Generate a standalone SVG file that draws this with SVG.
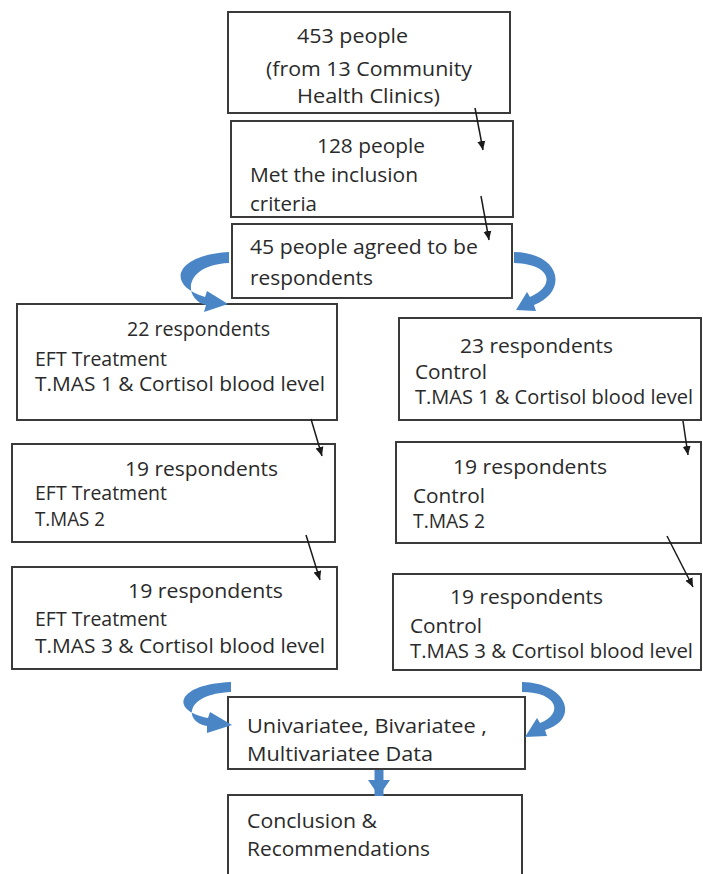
<svg xmlns="http://www.w3.org/2000/svg" width="703" height="874" viewBox="0 0 703 874">
<style>
.box{fill:#fff;stroke:#3a3a3a;stroke-width:2}
text{font-family:"Open Sans","Liberation Sans",sans-serif;font-size:19.5px;fill:#2a2a2a}
.blk{stroke:#1a1a1a;stroke-width:1.5;fill:none}
.bluef{fill:#4a86c6;stroke:none}
.blue{stroke:#4a86c6;stroke-width:9;fill:none;stroke-linecap:butt}
</style>
<defs>
<marker id="ah" markerUnits="userSpaceOnUse" markerWidth="10" markerHeight="10" refX="9" refY="5" orient="auto"><path d="M0,1 L9,5 L0,9 Z" fill="#1a1a1a"/></marker>
<marker id="bh" markerUnits="userSpaceOnUse" markerWidth="20" markerHeight="22" refX="16" refY="11" orient="auto"><path d="M0,0 L16,11 L0,22 Z" fill="#4a86c6"/></marker>
</defs>
<rect width="703" height="874" fill="#fff"/>
<g id="n1"><rect class="box" x="228" y="12" width="282" height="101"/>
<text x="297" y="43" textLength="111" lengthAdjust="spacingAndGlyphs">453 people</text>
<text x="266" y="76" textLength="206" lengthAdjust="spacingAndGlyphs">(from 13 Community</text>
<text x="297" y="103" textLength="143" lengthAdjust="spacingAndGlyphs">Health Clinics)</text></g>
<g id="n2"><rect class="box" x="231" y="121" width="282" height="96"/>
<text x="317" y="153" textLength="108" lengthAdjust="spacingAndGlyphs">128 people</text>
<text x="250" y="182" textLength="168" lengthAdjust="spacingAndGlyphs">Met the inclusion</text>
<text x="250" y="211" textLength="67" lengthAdjust="spacingAndGlyphs">criteria</text></g>
<g id="n3"><rect class="box" x="232" y="224" width="280" height="74"/>
<text x="250" y="254" textLength="228" lengthAdjust="spacingAndGlyphs">45 people  agreed to be</text>
<text x="250" y="285" textLength="123" lengthAdjust="spacingAndGlyphs">respondents</text></g>
<g id="l1"><rect class="box" x="17" y="304" width="320" height="116"/>
<text x="127" y="336" textLength="143" lengthAdjust="spacingAndGlyphs">22 respondents</text>
<text x="35" y="366" textLength="132" lengthAdjust="spacingAndGlyphs">EFT Treatment</text>
<text x="35" y="391" textLength="290" lengthAdjust="spacingAndGlyphs">T.MAS 1 &amp; Cortisol blood level</text></g>
<g id="l2"><rect class="box" x="12" y="444" width="323" height="98"/>
<text x="125" y="476" textLength="153" lengthAdjust="spacingAndGlyphs">19 respondents</text>
<text x="35" y="500" textLength="132" lengthAdjust="spacingAndGlyphs">EFT Treatment</text>
<text x="35" y="526" textLength="70" lengthAdjust="spacingAndGlyphs">T.MAS 2</text></g>
<g id="l3"><rect class="box" x="12" y="567" width="325" height="102"/>
<text x="128" y="598" textLength="155" lengthAdjust="spacingAndGlyphs">19 respondents</text>
<text x="35" y="626" textLength="132" lengthAdjust="spacingAndGlyphs">EFT Treatment</text>
<text x="35" y="653" textLength="290" lengthAdjust="spacingAndGlyphs">T.MAS 3 &amp; Cortisol blood level</text></g>
<g id="r1"><rect class="box" x="399" y="318" width="302" height="102"/>
<text x="460" y="353" textLength="153" lengthAdjust="spacingAndGlyphs">23 respondents</text>
<text x="415" y="379" textLength="72" lengthAdjust="spacingAndGlyphs">Control</text>
<text x="415" y="404" textLength="278" lengthAdjust="spacingAndGlyphs">T.MAS 1 &amp; Cortisol blood level</text></g>
<g id="r2"><rect class="box" x="396" y="442" width="305" height="101"/>
<text x="453" y="474" textLength="154" lengthAdjust="spacingAndGlyphs">19 respondents</text>
<text x="413" y="503" textLength="72" lengthAdjust="spacingAndGlyphs">Control</text>
<text x="413" y="528" textLength="72" lengthAdjust="spacingAndGlyphs">T.MAS 2</text></g>
<g id="r3"><rect class="box" x="393" y="574" width="308" height="96"/>
<text x="450" y="604" textLength="153" lengthAdjust="spacingAndGlyphs">19 respondents</text>
<text x="410" y="633" textLength="72" lengthAdjust="spacingAndGlyphs">Control</text>
<text x="410" y="658" textLength="283" lengthAdjust="spacingAndGlyphs">T.MAS 3  &amp; Cortisol blood level</text></g>
<g id="n4"><rect class="box" x="228" y="697" width="297" height="72"/>
<text x="247" y="733" textLength="240" lengthAdjust="spacingAndGlyphs">Univariatee, Bivariatee ,</text>
<text x="247" y="761" textLength="186" lengthAdjust="spacingAndGlyphs">Multivariatee Data</text></g>
<g id="n5"><rect class="box" x="228" y="795" width="294" height="90"/>
<text x="247" y="828" textLength="130" lengthAdjust="spacingAndGlyphs">Conclusion &amp;</text>
<text x="247" y="856" textLength="183" lengthAdjust="spacingAndGlyphs">Recommendations</text></g>
<g id="connectors">
<path class="blk" d="M475,108 L483,150" marker-end="url(#ah)"/>
<path class="blk" d="M481,196 L489,240" marker-end="url(#ah)"/>
<path class="blk" d="M311,419 L322,456" marker-end="url(#ah)"/>
<path class="blk" d="M306,535 L320,580" marker-end="url(#ah)"/>
<path class="blk" d="M683,421 L688,455" marker-end="url(#ah)"/>
<path class="blk" d="M667,536 L693,587" marker-end="url(#ah)"/>
<path class="bluef" d="M229,252 C175,255 165,285 205,297 L207,291 L228,304 L204,312 L206,305 C183,299 183,265 229,263 Z"/>
<path class="bluef" d="M514,252 C562,253 568,292 534,305 L536,311 L516,310 L527,292 L530,297 C556,286 552,264 514,263 Z"/>
<path class="bluef" d="M231,682 C178,684 168,710 208,718 L210,712 L232,725 L207,733 L207,726 C184,722 184,694 231,692 Z"/>
<path class="bluef" d="M522,682 C568,683 580,720 545,730 L547,736 L525,737 L537,718 L540,723 C564,714 558,692 522,692 Z"/>
<path class="blue" d="M379,770 L379,796" marker-end="url(#bh)"/>
</g>
</svg>
